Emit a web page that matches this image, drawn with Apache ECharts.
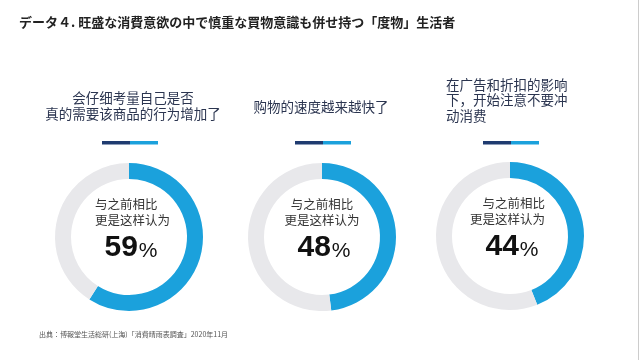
<!DOCTYPE html>
<html><head><meta charset="utf-8">
<script src="https://cdn.jsdelivr.net/npm/echarts@6/dist/echarts.min.js"></script>
<style>html,body{margin:0;padding:0;background:#fff}#c{width:640px;height:360px}</style>
</head><body><div id="c"></div>
<script>
var chartTitle = 'データ４. 旺盛な消費意欲の中で慎重な買物意識も併せ持つ「度物」生活者';
var categories = [
  ['会仔细考量自己是否', '真的需要该商品的行为增加了'],
  ['购物的速度越来越快了'],
  ['在广告和折扣的影响', '下，开始注意不要冲', '动消费']
];
var values = [59, 48, 44];
var innerLabel = ['与之前相比', '更是这样认为'];
var source = '出典：博報堂生活総研(上海)「消費晴雨表調査」2020年11月';

var centers = [[129, 237], [322, 237], [510, 236]];
var catPos = [
  {x: 133, y: 106, align: 'center'},
  {x: 321, y: 107, align: 'center'},
  {x: 446, y: 100, align: 'left'}
];
var innerPos = [
  {x: 95, align: 'left'},
  {x: 322, align: 'center'},
  {x: 545, align: 'right'}
];
var cjk = '"Noto Sans CJK SC", "Noto Sans CJK JP", sans-serif';
var chart = echarts.init(document.getElementById('c'), null, {renderer: 'canvas'});
var series = [];
var graphic = [];
graphic.push({type: 'text', left: 19, top: 16, style: {text: chartTitle, font: 'bold 13px "Noto Sans CJK JP", sans-serif', fill: '#222'}});
graphic.push({type: 'text', left: 39, top: 331, style: {text: source, font: '7px "Noto Sans CJK JP", sans-serif', fill: '#555'}});
values.forEach(function (v, i) {
  series.push({
    type: 'pie', radius: [58, 74], center: centers[i], startAngle: 90, clockwise: true,
    silent: true, label: {show: false}, labelLine: {show: false},
    data: [
      {value: v, itemStyle: {color: '#1ba1dc'}},
      {value: 100 - v, itemStyle: {color: '#e8e8eb'}}
    ]
  });
  var cp = catPos[i];
  graphic.push({type: 'text', x: cp.x, y: cp.y, style: {
    text: categories[i].join('\n'), font: '13.5px ' + cjk, fill: '#2b3550',
    align: cp.align, verticalAlign: 'middle', lineHeight: 15.5
  }});
  graphic.push({type: 'rect', shape: {x: centers[i][0] - 27, y: 141, width: 28, height: 3.5}, style: {fill: '#1f3b70'}});
  graphic.push({type: 'rect', shape: {x: centers[i][0] + 1, y: 141, width: 28, height: 3.5}, style: {fill: '#1ba1dc'}});
  var ip = innerPos[i];
  graphic.push({type: 'text', x: ip.x, y: centers[i][1] - 25, style: {
    text: innerLabel.join('\n'), font: '12.5px ' + cjk, fill: '#333',
    align: ip.align, verticalAlign: 'middle', lineHeight: 16
  }});
  graphic.push({type: 'text', x: centers[i][0] + 2, y: centers[i][1] + 11, style: {
    text: '{n|' + v + '}{p|%}', align: 'center', verticalAlign: 'middle',
    rich: {
      n: {font: 'bold 30px "Liberation Sans", Arial, sans-serif', fill: '#111', verticalAlign: 'bottom'},
      p: {font: '21px "Liberation Sans", Arial, sans-serif', fill: '#111', verticalAlign: 'bottom', padding: [0, 0, 1, 1]}
    }
  }});
});
graphic.push({type: 'rect', shape: {x: 638, y: 0, width: 1, height: 360}, style: {fill: '#ccc'}});
chart.setOption({animation: false, series: series, graphic: graphic});
</script></body></html>
